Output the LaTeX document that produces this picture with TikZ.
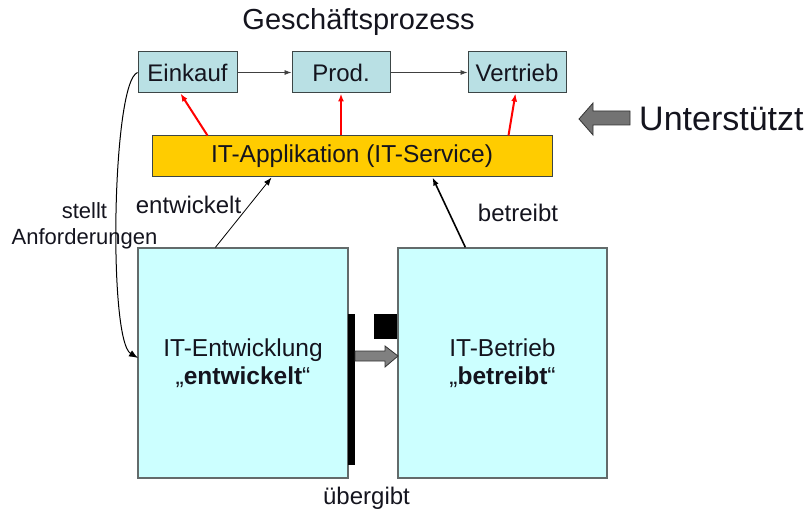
\documentclass[tikz,border=0pt]{standalone}
\usepackage{fontspec}
\setmainfont{Liberation Sans}
\usetikzlibrary{arrows.meta}
\definecolor{topfill}{RGB}{185,224,228}
\definecolor{appfill}{RGB}{255,204,0}
\definecolor{lowfill}{RGB}{204,255,255}
\definecolor{edge}{RGB}{60,70,70}
\definecolor{txt}{RGB}{20,20,30}
\tikzset{
  procbox/.style={draw=edge, line width=1pt, fill=topfill, minimum height=41pt, inner sep=0pt, font=\fontsize{24}{27}\selectfont, text=txt},
  appbox/.style={draw=edge, line width=1pt, fill=appfill, minimum width=400pt, minimum height=41pt, inner sep=0pt, font=\fontsize{24.5}{27}\selectfont, text=txt},
  orgbox/.style={draw=edge!80, line width=1.2pt, fill=lowfill, minimum height=230pt, inner sep=0pt, align=center, font=\fontsize{24.5}{28}\selectfont, text=txt},
  lbl/.style={font=\fontsize{24}{27}\selectfont, text=txt, align=center, inner sep=0pt},
  flow/.style={draw=black!75, line width=0.8pt, -{Latex[length=7pt,width=5pt]}},
  redarr/.style={draw=red, line width=2pt, -{Latex[length=8pt,width=6pt]}},
  blkarr/.style={draw=black, -{Latex[length=8pt,width=6pt]}},
}
\begin{document}
\begin{tikzpicture}[x=1pt,y=-1pt]
\useasboundingbox (0,0) rectangle (808,513);
\node[lbl, font=\fontsize{29}{32}\selectfont] (title) at (358.5,22) {Geschäftsprozess};
\node[procbox, minimum width=99pt] (ein) at (187.5,72.5) {Einkauf};
\node[procbox, minimum width=98pt] (prod) at (341,72.5) {Prod.};
\node[procbox, minimum width=98pt] (ver) at (517,72.5) {Vertrieb};
\draw[flow] (ein) -- (prod);
\draw[flow] (prod) -- (ver);
\node[appbox] (app) at (352,156.5) {IT-Applikation (IT-Service)};
\draw[redarr] ([xshift=56pt]app.north west) -- ([xshift=43pt]ein.south west);
\draw[redarr] (app.north -| prod.south) -- (prod.south);
\draw[redarr] ([xshift=357pt]app.north west) -- ([xshift=48pt]ver.south west);
% support arrow
\fill[black!55, draw=black!80, line width=0.8pt] (579,119) -- (593,103) -- (593,111) -- (630,111) -- (630,125) -- (593,125) -- (593,135) -- cycle;
\node[lbl, font=\fontsize{34}{36}\selectfont, anchor=west] (unt) at (639,119) {Unterstützt};
% lower boxes
\node[orgbox, minimum width=210pt] (ent) at (243,363) {IT-Entwicklung\\„\textbf{entwickelt}“};
\node[orgbox, minimum width=209pt] (bet) at (502.5,363) {IT-Betrieb\\„\textbf{betreibt}“};
\draw[blkarr, line width=0.8pt] ([xshift=78pt]ent.north west) -- ([xshift=120pt]app.south west);
\draw[blkarr, line width=1.6pt] ([xshift=68pt]bet.north west) -- ([xshift=281pt]app.south west);
\node[lbl] (lent) at (188.5,205) {entwickelt};
\node[lbl] (lbet) at (518,213) {betreibt};
\node[lbl, align=center, font=\fontsize{22}{26}\selectfont] (lanf) at (84.5,226) {stellt\\Anforderungen};
\coordinate (anfend) at (138,358);
\draw[black, line width=1pt, -{Latex[length=9pt,width=7pt]}] (ein.west) .. controls (112,82) and (108,340) .. (anfend);
% handover
\fill[black] (348,314) rectangle (355,465);
\fill[black] (374,314) rectangle (397,339);
\fill[black!50, draw=black!80, line width=0.8pt] (355,351) -- (385,351) -- (385,346) -- (398,356) -- (385,367) -- (385,361) -- (355,361) -- cycle;
\node[lbl] (ueb) at (366.5,498) {übergibt};
\end{tikzpicture}
\end{document}
